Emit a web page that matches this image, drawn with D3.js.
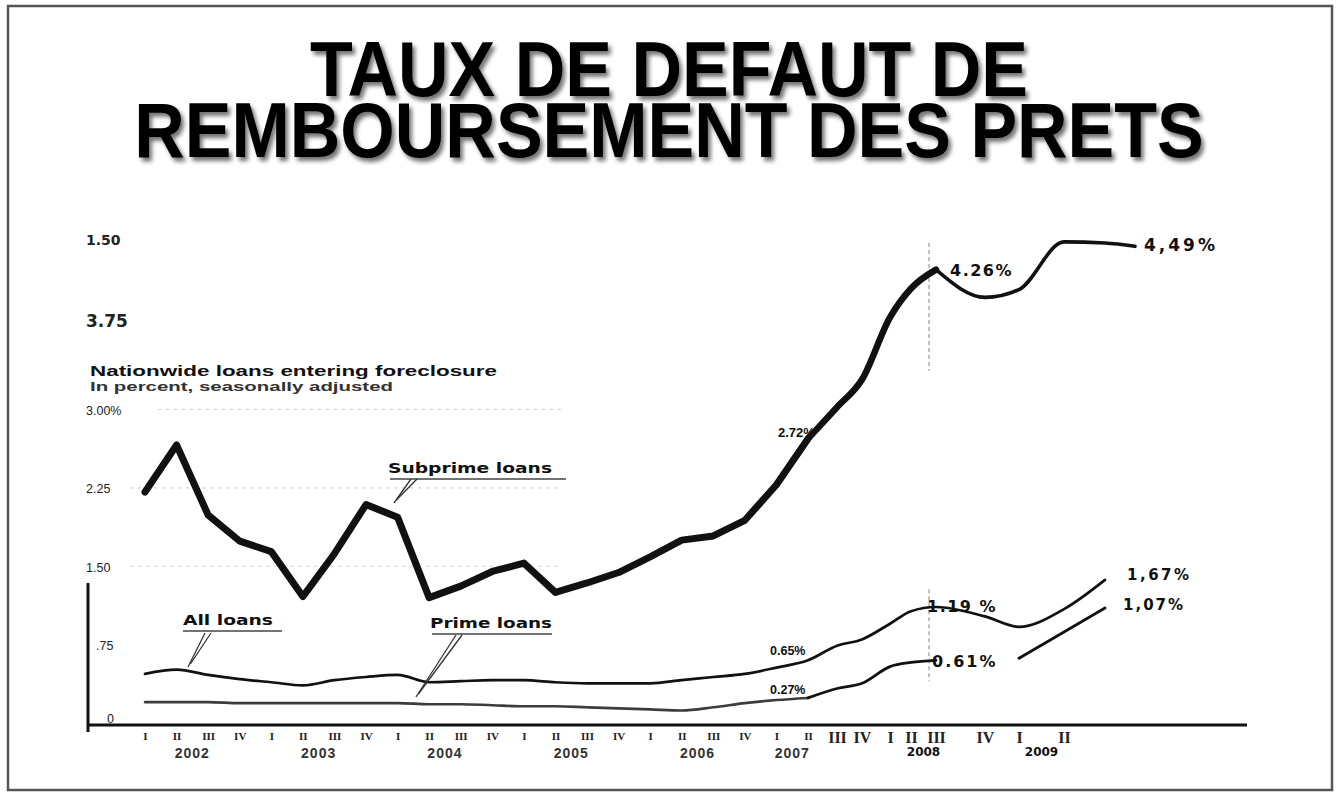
<!DOCTYPE html>
<html>
<head>
<meta charset="utf-8">
<script src="https://cdn.jsdelivr.net/npm/d3@7"></script>
<style>
  body { margin: 0; background: #fff; }
  svg { display: block; }
</style>
</head>
<body>
<div id="chart"></div>
<script>
// quarters from 2002 I to 2009 II ; the series run two quarters past the last label
const quarterLabels = ["I", "II", "III", "IV", "I", "II", "III", "IV", "I", "II", "III", "IV",
  "I", "II", "III", "IV", "I", "II", "III", "IV", "I", "II", "III", "IV",
  "I", "II", "III", "IV", "I", "II"];
const years = ["2002", "2003", "2004", "2005", "2006", "2007", "2008", "2009"];
const yearAt = [1.5, 5.5, 9.5, 13.5, 17.5, 20.5, 25.5, 28.5];

// loans entering foreclosure, in percent
const subprime = [2.21, 2.66, 1.99, 1.74, 1.64, 1.21, 1.62, 2.09, 1.97, 1.20, 1.31, 1.45,
  1.53, 1.25, 1.34, 1.44, 1.59, 1.75, 1.79, 1.94, 2.28, 2.72,
  3.02, 3.27, 3.83, 4.09, 4.26, 4.01, 4.08, 4.51, 4.50, 4.47];
const allLoans = [0.47, 0.51, 0.46, 0.42, 0.39, 0.36, 0.41, 0.44, 0.46, 0.39, 0.40, 0.41,
  0.41, 0.39, 0.38, 0.38, 0.38, 0.41, 0.44, 0.47, 0.53, 0.60,
  0.74, 0.80, 0.95, 1.07, 1.11, 1.02, 0.92, 1.09, 1.37];
const prime = [0.20, 0.20, 0.20, 0.19, 0.19, 0.19, 0.19, 0.19, 0.19, 0.18, 0.18, 0.17,
  0.16, 0.16, 0.15, 0.14, 0.13, 0.12, 0.15, 0.19, 0.22, 0.24,
  0.33, 0.38, 0.54, 0.58, 0.60, null, 0.62, 0.87, 1.10];

const yTicks = [0, 0.75, 1.5, 2.25, 3, 3.75, 4.5];
const yTickLabels = ["0", ".75", "1.50", "2.25", "3.00%", "3.75", "1.50"];

const titleLines = ["TAUX DE DEFAUT DE", "REMBOURSEMENT DES PRETS"];

const W = 1338, H = 795;
const SANS = "'Liberation Sans', Arial, sans-serif";
const HAND = "'DejaVu Sans', sans-serif";
const HAND_SERIF = "'Liberation Serif', serif";
const PRINTED_LAST = 21; // 2007 II, the last printed quarter

const svg = d3.select("#chart").append("svg").attr("width", W).attr("height", H);

// drop shadow for the title
const defs = svg.append("defs");
const filter = defs.append("filter").attr("id", "shadow")
  .attr("x", "-5%").attr("y", "-20%").attr("width", "110%").attr("height", "150%");
filter.append("feGaussianBlur").attr("in", "SourceAlpha").attr("stdDeviation", 2).attr("result", "blur");
filter.append("feOffset").attr("in", "blur").attr("dx", 3).attr("dy", 4).attr("result", "offsetBlur");
filter.append("feComponentTransfer").attr("in", "offsetBlur").attr("result", "soft")
  .append("feFuncA").attr("type", "linear").attr("slope", 0.55);
const feMerge = filter.append("feMerge");
feMerge.append("feMergeNode").attr("in", "soft");
feMerge.append("feMergeNode").attr("in", "SourceGraphic");

// frame
svg.append("rect").attr("x", 8).attr("y", 6).attr("width", 1324).attr("height", 784)
  .attr("fill", "#fff").attr("stroke", "#555").attr("stroke-width", 2.5);

// title, one text block of two lines, slightly stretched upward like the scan
const title = svg.append("text")
  .attr("transform", "translate(669, 0) scale(1, 1.1)")
  .attr("font-family", SANS).attr("font-weight", "bold").attr("font-size", 70)
  .attr("text-anchor", "middle").attr("filter", "url(#shadow)");
titleLines.forEach((t, i) => {
  title.append("tspan").attr("x", 0).attr("y", (96 + i * 61) / 1.1).text(t);
});

// scales: the hand-drawn part of the chart (after 2007 II) has uneven spacing
const x = d3.scaleLinear()
  .domain([0, 21, 22, 23, 24, 25, 26, 27, 28, 29, 30, 31])
  .range([145, 808, 837, 862, 890, 911, 936, 985, 1019, 1064, 1105, 1135]);
const y = d3.scaleLinear().domain([0, 3, 4.5]).range([723, 409.5, 243]);

// faint dotted gridlines of the printed chart
svg.append("g").selectAll("line").data([1.5, 2.25, 3]).join("line")
  .attr("x1", d => (d === 3 ? 158 : 130)).attr("x2", 562)
  .attr("y1", d => y(d)).attr("y2", d => y(d))
  .attr("stroke", "#cfcfcf").attr("stroke-width", 1.2).attr("stroke-dasharray", "3,5");

// dashed divider drawn by hand near 2008
const divX = x(26) - 7;
svg.append("g").selectAll("line").data([[4.5, 3.35], [1.28, 0.4]]).join("line")
  .attr("x1", divX).attr("x2", divX)
  .attr("y1", d => y(d[0])).attr("y2", d => y(d[1]))
  .attr("stroke", "#999").attr("stroke-width", 1.2).attr("stroke-dasharray", "4,3");

// axes
svg.append("line").attr("x1", 88).attr("x2", 1247).attr("y1", y(0) + 2).attr("y2", y(0) + 2)
  .attr("stroke", "#111").attr("stroke-width", 3);
svg.append("line").attr("x1", 88).attr("x2", 88).attr("y1", 583).attr("y2", 732)
  .attr("stroke", "#111").attr("stroke-width", 3);

const gx = svg.append("g")
  .attr("transform", `translate(0, ${y(0) + 2})`)
  .call(d3.axisBottom(x)
    .tickValues(d3.range(quarterLabels.length))
    .tickFormat(i => quarterLabels[i])
    .tickSize(0).tickPadding(7));
gx.select(".domain").remove();
gx.selectAll(".tick text")
  .attr("fill", "#222")
  .attr("font-family", HAND_SERIF)
  .attr("font-size", d => (d > PRINTED_LAST ? 16 : 11))
  .attr("font-weight", "bold");

svg.append("g").selectAll("text").data(years).join("text")
  .attr("x", (d, i) => x(yearAt[i]))
  .attr("y", (d, i) => (i > 5 ? 756 : 758))
  .attr("text-anchor", "middle")
  .attr("font-family", (d, i) => (i > 5 ? HAND : SANS))
  .attr("font-size", (d, i) => (i > 5 ? 12 : 14))
  .attr("font-weight", "bold")
  .attr("letter-spacing", (d, i) => (i > 5 ? 0 : 1))
  .attr("fill", (d, i) => (i > 5 ? "#111" : "#333"))
  .text(d => d);

const gy = svg.append("g")
  .attr("transform", "translate(86,0)")
  .call(d3.axisLeft(y).tickValues(yTicks).tickFormat((d, i) => yTickLabels[i]).tickSize(0));
gy.select(".domain").remove();
gy.selectAll(".tick text")
  .attr("text-anchor", "start")
  .attr("x", d => (d === 0 ? 21 : d === 0.75 ? 10 : 0))
  .attr("y", d => (d === 0 ? -5 : d === 3.75 ? -5 : d === 4.5 ? -3 : 1))
  .attr("fill", "#222")
  .attr("font-family", d => (d > 3 ? HAND : SANS))
  .attr("font-size", d => (d === 3.75 ? 17 : d > 3 ? 14 : 12.5))
  .attr("font-weight", d => (d > 3 ? "bold" : "normal"));

// subtitle
const sub = svg.append("g").attr("font-family", SANS).attr("fill", "#111");
sub.append("text").attr("x", 90).attr("y", 376).attr("font-size", 15).attr("font-weight", "bold")
  .attr("textLength", 407).attr("lengthAdjust", "spacingAndGlyphs")
  .text("Nationwide loans entering foreclosure");
sub.append("text").attr("x", 90).attr("y", 391).attr("font-size", 13.5).attr("font-weight", "bold")
  .attr("fill", "#333").attr("textLength", 303).attr("lengthAdjust", "spacingAndGlyphs")
  .text("In percent, seasonally adjusted");

// lines
const pts = arr => arr.map((v, i) => ({ i, v }));
const straight = d3.line().defined(d => d.v != null).x(d => x(d.i)).y(d => y(d.v));
const smooth = d3.line().defined(d => d.v != null).curve(d3.curveMonotoneX)
  .x(d => x(d.i)).y(d => y(d.v));

const lines = svg.append("g").attr("fill", "none")
  .attr("stroke-linejoin", "round").attr("stroke-linecap", "round");

lines.append("path").attr("d", smooth(pts(prime).slice(0, PRINTED_LAST + 1)))
  .attr("stroke", "#3c3c3c").attr("stroke-width", 2.6);
lines.append("path").attr("d", smooth(pts(prime).slice(PRINTED_LAST)))
  .attr("stroke", "#111").attr("stroke-width", 2.8);

lines.append("path").attr("d", smooth(pts(allLoans)))
  .attr("stroke", "#111").attr("stroke-width", 2.7);

lines.append("path").attr("d", straight(pts(subprime).slice(0, PRINTED_LAST + 1)))
  .attr("stroke", "#111").attr("stroke-width", 7);
lines.append("path").attr("d", smooth(pts(subprime).slice(PRINTED_LAST, 27)))
  .attr("stroke", "#111").attr("stroke-width", 6.5);
lines.append("path").attr("d", smooth(pts(subprime).slice(26)))
  .attr("stroke", "#111").attr("stroke-width", 3.6);

// series labels with their double leader lines
const seriesLabels = [
  { text: "Subprime loans", x: 388, y: 473, len: 164, line: [390, 566], lead: [[411, 479], [394, 503]] },
  { text: "All loans", x: 183, y: 625, len: 90, line: [183, 282], lead: [[205, 633], [188, 667]] },
  { text: "Prime loans", x: 430, y: 628, len: 122, line: [432, 552], lead: [[456, 635], [416, 697]] }
];
const sl = svg.append("g");
seriesLabels.forEach(s => {
  sl.append("text").attr("x", s.x).attr("y", s.y)
    .attr("font-family", HAND).attr("font-size", 14).attr("font-weight", "bold").attr("fill", "#111")
    .attr("textLength", s.len).attr("lengthAdjust", "spacingAndGlyphs").text(s.text);
  sl.append("line").attr("x1", s.line[0]).attr("x2", s.line[1])
    .attr("y1", s.y + 6).attr("y2", s.y + 6).attr("stroke", "#444").attr("stroke-width", 1.6);
  [0, 6].forEach(off => {
    sl.append("line")
      .attr("x1", s.lead[0][0] + off).attr("y1", s.lead[0][1])
      .attr("x2", s.lead[1][0] + off * 0.4).attr("y2", s.lead[1][1] - off * 0.5)
      .attr("stroke", "#333").attr("stroke-width", 1.3);
  });
});

// values noted on the chart
const notes = [
  { text: "2.72%", q: 21, v: subprime[21], dx: -30, dy: -2, size: 13, font: SANS, ls: 0 },
  { text: "0.65%", q: 21, v: allLoans[21], dx: -38, dy: -5, size: 12.5, font: SANS, ls: 0 },
  { text: "0.27%", q: 21, v: prime[21], dx: -38, dy: -4, size: 12.5, font: SANS, ls: 0 },
  { text: "4.26%", q: 26, v: subprime[26], dx: 14, dy: 6, size: 16, font: HAND, ls: 1.5 },
  { text: "4,49%", q: 31, v: subprime[31], dx: 9, dy: 5, size: 17, font: HAND, ls: 3 },
  { text: "1.19 %", q: 26, v: allLoans[26], dx: -9, dy: 5, size: 16, font: HAND, ls: 1.5 },
  { text: "0.61%", q: 26, v: prime[26], dx: -4, dy: 7, size: 16, font: HAND, ls: 2 },
  { text: "1,67%", q: 30, v: allLoans[30], dx: 22, dy: 0, size: 15, font: HAND, ls: 2.5 },
  { text: "1,07%", q: 30, v: prime[30], dx: 18, dy: 2, size: 15, font: HAND, ls: 2 }
];
svg.append("g").selectAll("text").data(notes).join("text")
  .attr("x", d => x(d.q) + d.dx)
  .attr("y", d => y(d.v) + d.dy)
  .attr("font-family", d => d.font)
  .attr("font-size", d => d.size)
  .attr("font-weight", "bold")
  .attr("letter-spacing", d => d.ls)
  .attr("fill", "#111")
  .text(d => d.text);
</script>
</body>
</html>
